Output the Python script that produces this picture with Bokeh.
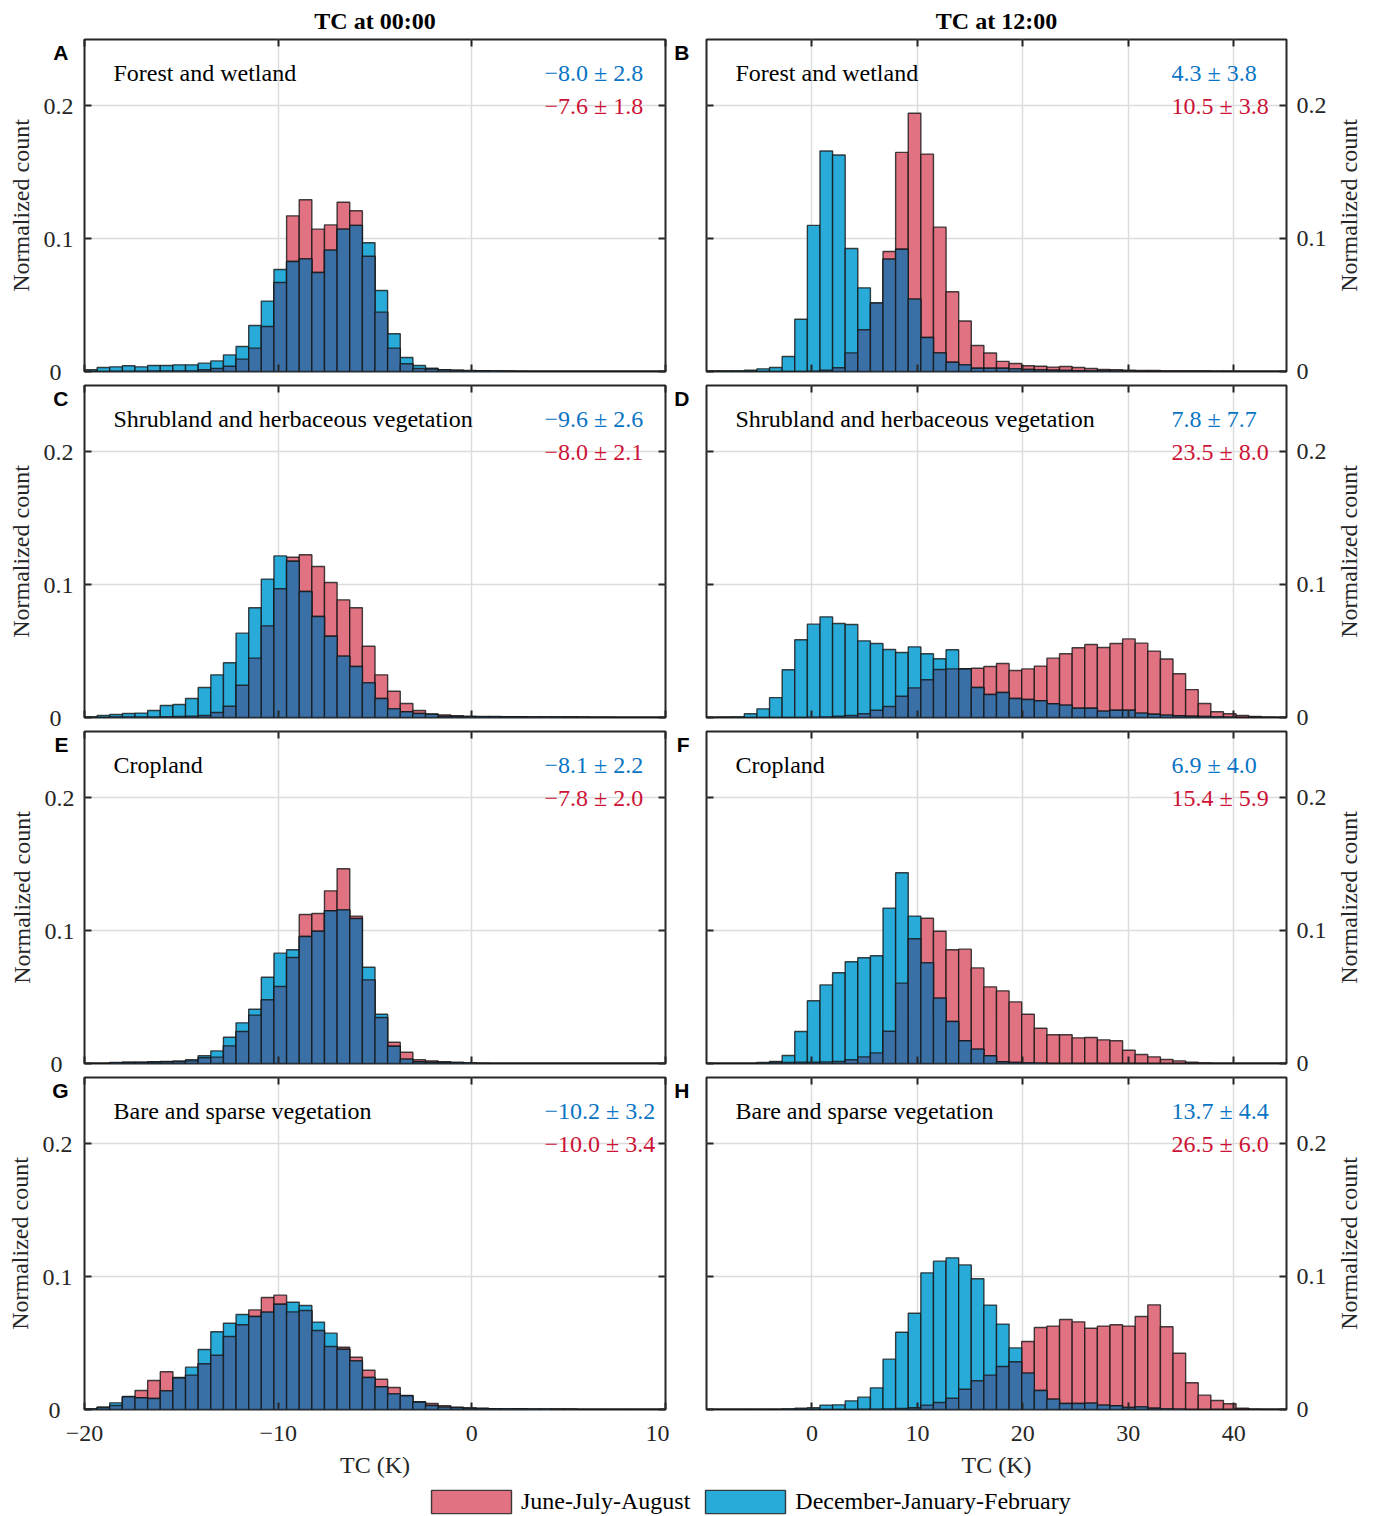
import math
import numpy as np
from bokeh.plotting import figure
from bokeh.layouts import column, row
from bokeh.models import (LinearAxis, FixedTicker, CustomJSTickFormatter, Label,
                          Legend, LegendItem, Range1d)
from bokeh.embed import file_html
from bokeh.resources import INLINE

# ---------------- data ----------------
N_BINS = 46
NIGHT_RANGE = [-20, 10]
DAY_RANGE = [-10, 45]
NIGHT_TICKS = [-20, -10, 0, 10]
DAY_TICKS = [0, 10, 20, 30, 40]
Y_TICKS = [0, 0.1, 0.2]
Y_MAX = 0.25

column_titles = ["TC at 00:00", "TC at 12:00"]
panel_letters = ["A", "B", "C", "D", "E", "F", "G", "H"]
region_names = ["Forest and wetland", "Forest and wetland",
                "Shrubland and herbaceous vegetation", "Shrubland and herbaceous vegetation",
                "Cropland", "Cropland",
                "Bare and sparse vegetation", "Bare and sparse vegetation"]
season_labels = ["June-July-August", "December-January-February"]

djf_mean = [-8.0, 4.3, -9.6, 7.8, -8.1, 6.9, -10.2, 13.7]
djf_std = [2.8, 3.8, 2.6, 7.7, 2.2, 4.0, 3.2, 4.4]
jja_mean = [-7.6, 10.5, -8.0, 23.5, -7.8, 15.4, -10.0, 26.5]
jja_std = [1.8, 3.8, 2.1, 8.0, 2.0, 5.9, 3.4, 6.0]

# normalized counts, 46 bins per panel
a_jja = [0, 0, 0.0002, 0.0003, 0.0003, 0.0004, 0.0004, 0.0005, 0.0005, 0.0013,
         0.0023, 0.004, 0.0093, 0.0176, 0.0339, 0.067, 0.1172, 0.1293, 0.1072, 0.1104,
         0.1275, 0.121, 0.0868, 0.0447, 0.0176, 0.0058, 0.0023, 0.0018, 0.0012, 0.0009,
         0.0007, 0.0005, 0.0004, 0.0003, 0.0002, 0, 0, 0, 0, 0,
         0, 0, 0, 0, 0, 0]
a_djf = [0.0013, 0.003, 0.0035, 0.0043, 0.0035, 0.0045, 0.0045, 0.005, 0.005, 0.0063,
         0.008, 0.0125, 0.0188, 0.0346, 0.053, 0.0768, 0.0828, 0.0848, 0.0745, 0.0914,
         0.1072, 0.110, 0.0969, 0.061, 0.0284, 0.0105, 0.0045, 0.0025, 0.0012, 0.0008,
         0.0005, 0.0004, 0.0003, 0.0002, 0, 0, 0, 0, 0, 0,
         0, 0, 0, 0, 0, 0]
b_jja = [0, 0, 0, 0, 0, 0, 0, 0, 0.0003, 0.001,
         0.0028, 0.014, 0.0314, 0.0515, 0.0904, 0.165, 0.1945, 0.1637, 0.1087, 0.060,
         0.038, 0.0196, 0.0139, 0.0076, 0.006, 0.0043, 0.004, 0.0033, 0.0038, 0.003,
         0.0023, 0.0015, 0.0013, 0.001, 0.0008, 0.0007, 0.0005, 0.0005, 0.0004, 0.0004,
         0.0003, 0.0002, 0, 0, 0, 0]
b_djf = [0.0004, 0.0004, 0.0005, 0.001, 0.002, 0.003, 0.0113, 0.0394, 0.110, 0.166,
         0.163, 0.0926, 0.063, 0.0517, 0.0846, 0.0921, 0.0545, 0.0256, 0.014, 0.007,
         0.005, 0.0025, 0.0025, 0.0025, 0.002, 0.0015, 0.0012, 0.001, 0.0008, 0.0006,
         0.0005, 0.0004, 0.0003, 0.0002, 0, 0, 0, 0, 0, 0,
         0, 0, 0, 0, 0, 0]
c_jja = [0, 0, 0.0005, 0.0005, 0.0005, 0.0005, 0.0006, 0.0007, 0.001, 0.0015,
         0.0038, 0.0085, 0.0243, 0.0447, 0.069, 0.0969, 0.1207, 0.1225, 0.1137, 0.1017,
         0.0886, 0.0826, 0.0537, 0.0321, 0.0198, 0.0105, 0.0053, 0.0025, 0.002, 0.0013,
         0.001, 0.0008, 0.0007, 0.0006, 0.0006, 0.0005, 0.0005, 0.0004, 0.0004, 0.0003,
         0.0003, 0.0002, 0, 0, 0, 0]
c_djf = [0.0005, 0.0015, 0.0023, 0.003, 0.0033, 0.0053, 0.009, 0.0098, 0.0143, 0.0226,
         0.0321, 0.0412, 0.0635, 0.0826, 0.1042, 0.1217, 0.1177, 0.0949, 0.076, 0.0612,
         0.0462, 0.0384, 0.0261, 0.0143, 0.0065, 0.0043, 0.003, 0.0025, 0.001, 0.0008,
         0.0006, 0.0005, 0.0005, 0.0004, 0.0004, 0.0003, 0.0003, 0.0003, 0.0002, 0.0002,
         0, 0, 0, 0, 0, 0]
d_jja = [0, 0, 0, 0, 0, 0, 0, 0, 0.0003, 0.0005,
         0.001, 0.0015, 0.0028, 0.0055, 0.0083, 0.016, 0.0223, 0.0284, 0.0361, 0.0366,
         0.0365, 0.0371, 0.0384, 0.0407, 0.0354, 0.0366, 0.0387, 0.0447, 0.048, 0.0525,
         0.055, 0.0527, 0.0557, 0.0592, 0.056, 0.050, 0.044, 0.0329, 0.021, 0.0105,
         0.0043, 0.0028, 0.0015, 0.0008, 0.0003, 0]
d_djf = [0, 0.0002, 0.0005, 0.0028, 0.0065, 0.015, 0.0359, 0.0585, 0.0703, 0.0758,
         0.0708, 0.070, 0.0577, 0.0557, 0.0512, 0.049, 0.0532, 0.048, 0.0442, 0.051,
         0.0368, 0.0226, 0.0173, 0.0188, 0.0143, 0.0136, 0.0126, 0.0103, 0.0093, 0.007,
         0.007, 0.0048, 0.0055, 0.0055, 0.0033, 0.0025, 0.0018, 0.0013, 0.001, 0.0008,
         0.0005, 0.0003, 0, 0, 0, 0]
e_jja = [0, 0, 0.0005, 0.0007, 0.0008, 0.001, 0.0012, 0.0015, 0.002, 0.0043,
         0.0048, 0.0133, 0.0241, 0.0364, 0.048, 0.058, 0.0798, 0.1122, 0.113, 0.130,
         0.1466, 0.111, 0.063, 0.0346, 0.016, 0.0085, 0.0028, 0.002, 0.0013, 0.001,
         0.0005, 0.0003, 0, 0, 0, 0, 0, 0, 0, 0,
         0, 0, 0, 0, 0, 0]
e_djf = [0, 0, 0.0008, 0.001, 0.001, 0.0013, 0.0015, 0.0018, 0.0028, 0.0058,
         0.0095, 0.0198, 0.0306, 0.0409, 0.065, 0.0831, 0.0856, 0.0956, 0.0996, 0.115,
         0.1157, 0.1092, 0.0725, 0.0371, 0.013, 0.0033, 0.0013, 0.001, 0.0008, 0.0005,
         0.0003, 0, 0, 0, 0, 0, 0, 0, 0, 0,
         0, 0, 0, 0, 0, 0]
f_jja = [0, 0, 0, 0, 0, 0.0008, 0.0008, 0.001, 0.001, 0.0012,
         0.0015, 0.0028, 0.005, 0.008, 0.0243, 0.0605, 0.0939, 0.1094, 0.0996, 0.0856,
         0.0861, 0.072, 0.0577, 0.0547, 0.0464, 0.0371, 0.0266, 0.0216, 0.0216, 0.0193,
         0.0196, 0.0178, 0.0171, 0.010, 0.0068, 0.005, 0.003, 0.002, 0.001, 0.0005,
         0, 0, 0, 0, 0, 0]
f_djf = [0, 0, 0, 0, 0.0008, 0.0015, 0.006, 0.0241, 0.0472, 0.0592,
         0.0683, 0.0766, 0.0796, 0.0811, 0.117, 0.1436, 0.111, 0.0758, 0.0492, 0.0316,
         0.0171, 0.0108, 0.0058, 0.0013, 0.0008, 0.0005, 0.0003, 0, 0, 0,
         0, 0, 0, 0, 0, 0, 0, 0, 0, 0,
         0, 0, 0, 0, 0, 0]
g_jja = [0.0003, 0.0015, 0.003, 0.0095, 0.0143, 0.0218, 0.0284, 0.0236, 0.0259, 0.0344,
         0.0409, 0.055, 0.0638, 0.075, 0.0843, 0.0861, 0.0735, 0.0745, 0.0595, 0.0474,
         0.0469, 0.0394, 0.0296, 0.0228, 0.0166, 0.0103, 0.0055, 0.0045, 0.0028, 0.0015,
         0.001, 0.0008, 0.0006, 0.0005, 0.0004, 0.0003, 0.0003, 0.0002, 0.0002, 0,
         0, 0, 0, 0, 0, 0]
g_djf = [0.0005, 0.0018, 0.005, 0.0098, 0.0088, 0.0083, 0.014, 0.0241, 0.0319, 0.0452,
         0.0585, 0.065, 0.0715, 0.070, 0.0733, 0.0793, 0.0808, 0.0783, 0.0658, 0.0575,
         0.0454, 0.0366, 0.0241, 0.0171, 0.0118, 0.0106, 0.0058, 0.003, 0.0018, 0.0015,
         0.0012, 0.0008, 0.0006, 0.0005, 0.0004, 0.0003, 0.0003, 0.0002, 0.0002, 0,
         0, 0, 0, 0, 0, 0]
h_jja = [0, 0, 0, 0, 0, 0, 0, 0, 0, 0,
         0, 0, 0.0002, 0.0003, 0.0005, 0.0008, 0.0013, 0.0033, 0.0053, 0.0085,
         0.0153, 0.0216, 0.0259, 0.0324, 0.0359, 0.0512, 0.0617, 0.0628, 0.0678, 0.066,
         0.0612, 0.0628, 0.0638, 0.0628, 0.070, 0.0788, 0.0623, 0.0424, 0.0201, 0.0108,
         0.0068, 0.0043, 0.001, 0.0003, 0, 0]
h_djf = [0, 0, 0, 0, 0, 0, 0.0005, 0.001, 0.0013, 0.0033,
         0.0035, 0.0065, 0.0093, 0.0163, 0.0379, 0.0582, 0.0725, 0.1029, 0.1117, 0.1142,
         0.1089, 0.0984, 0.0786, 0.0643, 0.0464, 0.0274, 0.0143, 0.0078, 0.0045, 0.0045,
         0.0048, 0.0033, 0.0028, 0.0015, 0.002, 0.001, 0.0005, 0.0003, 0, 0,
         0, 0, 0, 0, 0, 0]

jja_values = [a_jja, b_jja, c_jja, d_jja, e_jja, f_jja, g_jja, h_jja]
djf_values = [a_djf, b_djf, c_djf, d_djf, e_djf, f_djf, g_djf, h_djf]

# ---------------- style ----------------
RED = "#E07282"
BLUE = "#29ABD9"
DARK = "#3A70A6"
EDGE = "#151515"
TXT_BLUE = "#0A74C4"
TXT_RED = "#CC1236"
INK = "#262626"
SERIF = "Liberation Serif"
FS = "24px"
LETTER_Y = 0.2402   # height (in count units) where the panel letter sits

minus_fmt = "return tick < 0 ? '\\u2212' + Math.abs(tick) : tick.toString();"
y_fmt = "return tick == 0 ? '0' : tick.toFixed(1);"
y_fmt_left = "return tick == 0 ? '0\\u2007' : tick.toFixed(1);"
empty_fmt = "return '';"


def fmt_stat(m, s):
    return f"{m:.1f}".replace("-", "\u2212") + " \u00b1 " + f"{s:.1f}"


def borders(rw):
    return dict(min_border_top=39 if rw == 0 else 1,
                min_border_bottom=78 if rw == 3 else 13)


def style_axis(ax, ticks, code, show, tick_in=7, standoff=8):
    ax.ticker = FixedTicker(ticks=ticks)
    ax.formatter = CustomJSTickFormatter(code=code if show else empty_fmt)
    ax.axis_line_color = None
    ax.major_tick_in = tick_in
    ax.major_tick_out = 0
    ax.major_tick_line_color = INK if tick_in else None
    ax.major_tick_line_width = 2
    ax.minor_tick_line_color = None
    ax.minor_tick_in = 0
    ax.minor_tick_out = 0
    if show:
        ax.major_label_text_font = SERIF
        ax.major_label_text_font_size = FS
        ax.major_label_text_color = INK
        ax.major_label_standoff = standoff
    else:
        ax.major_label_text_font_size = "0px"
        ax.major_label_standoff = 0


def letter_axis(letter, standoff):
    ax = LinearAxis()
    ax.ticker = FixedTicker(ticks=[LETTER_Y])
    ax.formatter = CustomJSTickFormatter(code="return '%s';" % letter)
    ax.axis_line_color = None
    ax.major_tick_in = 0
    ax.major_tick_out = 0
    ax.major_tick_line_color = None
    ax.minor_tick_line_color = None
    ax.minor_tick_in = 0
    ax.minor_tick_out = 0
    ax.major_label_text_font = "Liberation Sans"
    ax.major_label_text_font_style = "bold"
    ax.major_label_text_font_size = "21px"
    ax.major_label_text_color = "black"
    ax.major_label_standoff = standoff
    return ax


def style_ylabel(ax, standoff):
    ax.axis_label = "Normalized count"
    ax.axis_label_text_font = SERIF
    ax.axis_label_text_font_size = FS
    ax.axis_label_text_font_style = "normal"
    ax.axis_label_text_color = INK
    ax.axis_label_standoff = standoff


def make_panel(i):
    col = i % 2
    rw = i // 2
    left = col == 0
    xr = NIGHT_RANGE if left else DAY_RANGE
    xt = NIGHT_TICKS if left else DAY_TICKS
    p = figure(frame_width=581 if left else 580, frame_height=332,
               x_range=Range1d(xr[0], xr[1]), y_range=Range1d(0, Y_MAX),
               output_backend="svg", toolbar_location=None,
               y_axis_location="left" if left else "right",
               min_border_left=84 if left else 37,
               min_border_right=4 if left else 44,
               background_fill_color="white", border_fill_color="white",
               **borders(rw))
    p.outline_line_color = INK
    p.outline_line_width = 2
    p.outline_line_alpha = 1

    if rw == 0:
        p.title.text = column_titles[col]
        p.title.align = "center"
        p.title.text_font = SERIF
        p.title.text_font_size = FS
        p.title.text_font_style = "bold"
        p.title.text_color = "black"
        p.title.standoff = 11

    # x axes
    xa = p.below[0]
    style_axis(xa, xt, minus_fmt, rw == 3, standoff=16)
    if rw == 3:
        xa.axis_label = "TC (K)"
        xa.axis_label_text_font = SERIF
        xa.axis_label_text_font_size = FS
        xa.axis_label_text_font_style = "normal"
        xa.axis_label_text_color = INK
        xa.axis_label_standoff = 8
    top_ax = LinearAxis()
    style_axis(top_ax, xt, minus_fmt, False)
    p.add_layout(top_ax, "above")

    # y axes
    if left:
        style_axis(p.left[0], Y_TICKS, y_fmt, False)          # inward ticks
        p.add_layout(letter_axis(panel_letters[i], 16), "left")
        num = LinearAxis()                                     # numbers + title
        style_axis(num, Y_TICKS, y_fmt_left, True, tick_in=0, standoff=-23)
        style_ylabel(num, 7)
        p.add_layout(num, "left")
        side = LinearAxis()
        style_axis(side, Y_TICKS, y_fmt, False)
        p.add_layout(side, "right")
    else:
        style_axis(p.right[0], Y_TICKS, y_fmt, True, standoff=10)
        side = LinearAxis()
        style_axis(side, Y_TICKS, y_fmt, False)
        p.add_layout(side, "left")
        p.add_layout(letter_axis(panel_letters[i], 17), "left")

    p.xgrid.ticker = FixedTicker(ticks=xt)
    p.ygrid.ticker = FixedTicker(ticks=Y_TICKS)
    p.grid.grid_line_color = "#dcdcdc"
    p.grid.grid_line_width = 1.5

    # histogram bars
    edges = np.linspace(xr[0], xr[1], N_BINS + 1)
    centers = (edges[:-1] + edges[1:]) / 2
    width = edges[1] - edges[0]
    jja = np.array(jja_values[i])
    djf = np.array(djf_values[i])
    both = np.minimum(jja, djf)
    kw = dict(width=width, bottom=0, line_color=EDGE, line_width=1.4, line_alpha=0.8)
    p.vbar(x=centers, top=jja, fill_color=RED, **kw)
    p.vbar(x=centers, top=djf, fill_color=BLUE, **kw)
    p.vbar(x=centers, top=both, fill_color=DARK, **kw)

    # annotations
    p.add_layout(Label(x=29, y=0.225, x_units="screen", y_units="data",
                       text=region_names[i], text_align="left", text_baseline="middle",
                       text_font=SERIF, text_font_size=FS, text_color="black"))
    sx = 460 if left else 465
    p.add_layout(Label(x=sx, y=0.225, x_units="screen", y_units="data",
                       text=fmt_stat(djf_mean[i], djf_std[i]), text_align="left",
                       text_baseline="middle", text_font=SERIF, text_font_size=FS,
                       text_color=TXT_BLUE))
    p.add_layout(Label(x=sx, y=0.2, x_units="screen", y_units="data",
                       text=fmt_stat(jja_mean[i], jja_std[i]), text_align="left",
                       text_baseline="middle", text_font=SERIF, text_font_size=FS,
                       text_color=TXT_RED))
    return p


def right_title(rw):
    # narrow strip carrying the right-hand "Normalized count" title
    q = figure(frame_width=6, frame_height=332, x_range=Range1d(0, 1),
               y_range=Range1d(0, 1), output_backend="svg", toolbar_location=None,
               x_axis_location=None, y_axis_location="left",
               min_border_left=31, min_border_right=0,
               background_fill_color="white", border_fill_color="white",
               **borders(rw))
    q.outline_line_color = None
    q.grid.visible = False
    ax = q.left[0]
    ax.ticker = FixedTicker(ticks=[])
    ax.axis_line_color = None
    ax.major_tick_in = 0
    ax.major_tick_out = 0
    ax.minor_tick_in = 0
    ax.minor_tick_out = 0
    ax.major_label_text_font_size = "0px"
    ax.major_label_standoff = 0
    style_ylabel(ax, 0)
    return q


panels = [make_panel(i) for i in range(8)]
strips = [right_title(r) for r in range(4)]

# legend strip
lf = figure(width=1365, height=29, output_backend="svg", toolbar_location=None,
            x_axis_location=None, y_axis_location=None, min_border=0,
            x_range=Range1d(0, 1), y_range=Range1d(0, 1),
            background_fill_color="white", border_fill_color="white")
lf.outline_line_color = None
lf.grid.visible = False
nan = np.array([np.nan])
r_j = lf.vbar(x=nan, top=nan, width=1, fill_color=RED, line_color=EDGE, line_width=1.4, line_alpha=0.8)
r_d = lf.vbar(x=nan, top=nan, width=1, fill_color=BLUE, line_color=EDGE, line_width=1.4, line_alpha=0.8)
leg = Legend(items=[LegendItem(label=season_labels[0], renderers=[r_j]),
                    LegendItem(label=season_labels[1], renderers=[r_d])],
             orientation="horizontal", location=(421, 0),
             glyph_width=100, glyph_height=29, label_standoff=0, spacing=5,
             padding=0, margin=0, border_line_alpha=0, background_fill_alpha=0,
             label_text_font=SERIF, label_text_font_size=FS, label_text_color="black")
lf.add_layout(leg)

layout = column(row(panels[0], panels[1], strips[0]),
                row(panels[2], panels[3], strips[1]),
                row(panels[4], panels[5], strips[2]),
                row(panels[6], panels[7], strips[3]), lf)

open("out.html", "w").write(file_html(layout, INLINE))
